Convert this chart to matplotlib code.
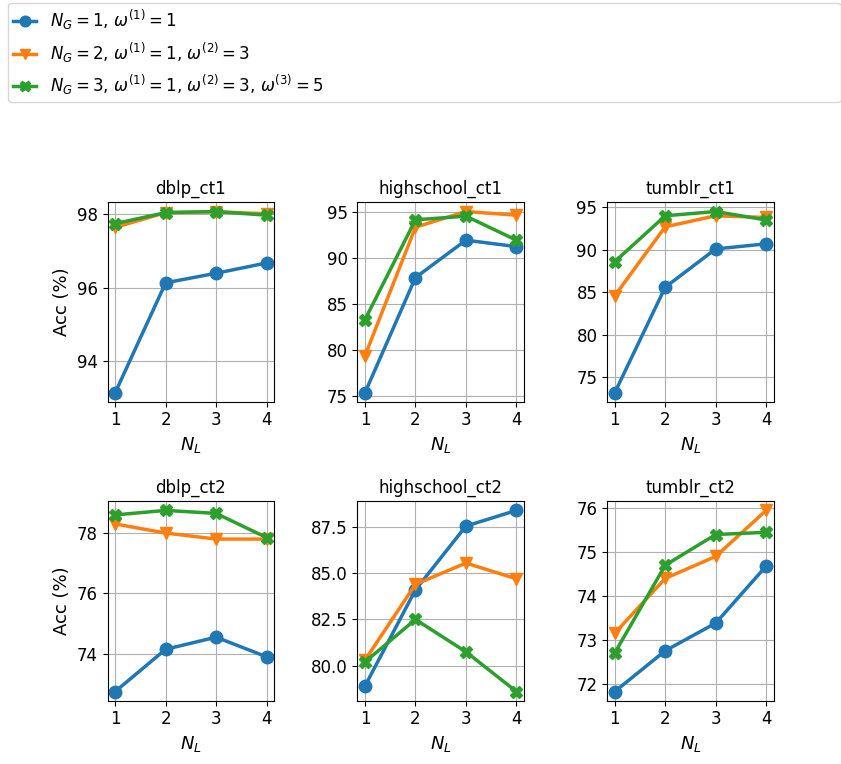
import numpy as np
import matplotlib.pyplot as plt

n_layers = [1, 2, 3, 4]
datasets = ['dblp_ct1', 'highschool_ct1', 'tumblr_ct1',
            'dblp_ct2', 'highschool_ct2', 'tumblr_ct2']

# accuracy (%) for N_G = 1, 2, 3
acc_g1 = {
    'dblp_ct1': [93.15, 96.14, 96.40, 96.68],
    'highschool_ct1': [75.4, 87.85, 91.9, 91.2],
    'tumblr_ct1': [73.2, 85.6, 90.1, 90.7],
    'dblp_ct2': [72.75, 74.15, 74.55, 73.9],
    'highschool_ct2': [78.9, 84.1, 87.55, 88.4],
    'tumblr_ct2': [71.82, 72.75, 73.38, 74.68],
}
acc_g2 = {
    'dblp_ct1': [97.65, 98.05, 98.07, 98.02],
    'highschool_ct1': [79.4, 93.3, 95.0, 94.6],
    'tumblr_ct1': [84.6, 92.7, 94.0, 93.8],
    'dblp_ct2': [78.3, 78.0, 77.8, 77.8],
    'highschool_ct2': [80.3, 84.4, 85.55, 84.7],
    'tumblr_ct2': [73.15, 74.4, 74.9, 75.95],
}
acc_g3 = {
    'dblp_ct1': [97.75, 98.05, 98.08, 97.98],
    'highschool_ct1': [83.3, 94.1, 94.5, 91.9],
    'tumblr_ct1': [88.6, 94.0, 94.5, 93.5],
    'dblp_ct2': [78.6, 78.75, 78.65, 77.85],
    'highschool_ct2': [80.2, 82.5, 80.75, 78.6],
    'tumblr_ct2': [72.7, 74.7, 75.4, 75.45],
}

labels = [r'$N_G=1$, $\omega^{(1)}=1$',
          r'$N_G=2$, $\omega^{(1)}=1$, $\omega^{(2)}=3$',
          r'$N_G=3$, $\omega^{(1)}=1$, $\omega^{(2)}=3$, $\omega^{(3)}=5$']
markers = ['o', 'v', 'X']
colors = ['#1f77b4', '#ff7f0e', '#2ca02c']

fig, axes = plt.subplots(2, 3, figsize=(8.41, 7.64), dpi=100)
fig.subplots_adjust(left=0.128, right=0.92, top=0.735, bottom=0.083,
                    wspace=0.5, hspace=0.5)

for ax, name in zip(axes.flat, datasets):
    for vals, lab, m, c in zip([acc_g1, acc_g2, acc_g3], labels, markers, colors):
        ax.plot(n_layers, vals[name], marker=m, color=c, label=lab,
                linewidth=2.5, markersize=9)
    ax.set_title(name, fontsize=12)
    ax.set_xticks(n_layers)
    ax.set_xlabel('$N_L$', fontsize=13)
    ax.tick_params(labelsize=12)
    ax.grid(True)
    ax.set_axisbelow(True)

axes[0, 0].set_yticks([94, 96, 98])
axes[1, 0].set_yticks([74, 76, 78])
axes[0, 0].set_ylabel('Acc (%)', fontsize=13)
axes[1, 0].set_ylabel('Acc (%)', fontsize=13)

handles, labs = axes[0, 0].get_legend_handles_labels()
fig.legend(handles, labs, loc='upper left', bbox_to_anchor=(0.0095, 0.996, 0.99, 0.0),
           mode='expand', borderaxespad=0, fontsize=12, handlelength=1.4,
           labelspacing=0.5, markerscale=0.85, borderpad=0.3)

fig.savefig('out.png')
